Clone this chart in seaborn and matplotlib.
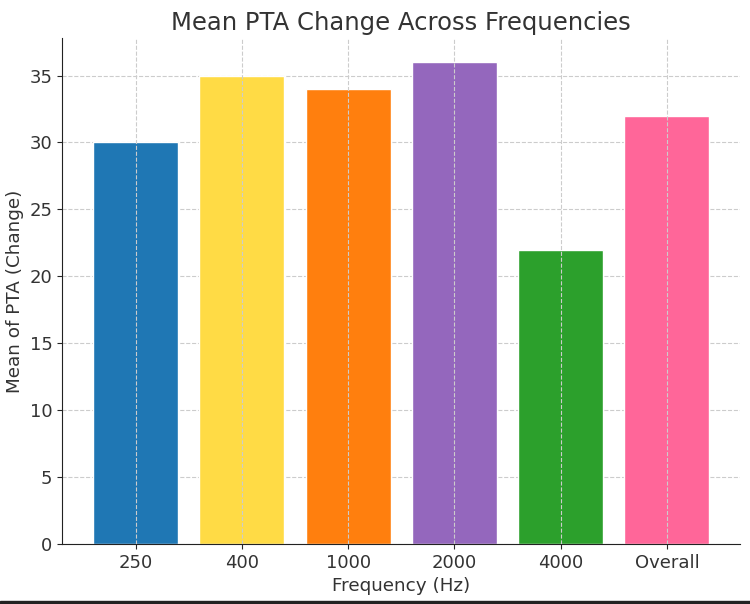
import matplotlib
matplotlib.use("Agg")
import matplotlib.pyplot as plt
import seaborn as sns
import pandas as pd
from matplotlib.patches import Rectangle

# chart data
frequencies = ["250", "400", "1000", "2000", "4000", "Overall"]
mean_change = [30, 35, 34, 36, 22, 32]
bar_colors = ["#1f77b4", "#FFDB45", "#ff7f0e", "#9467bd", "#2ca02c", "#FF6699"]

df = pd.DataFrame({"Frequency": frequencies, "Mean": mean_change})

sns.set_style("ticks")
plt.rcParams["font.family"] = ["DejaVu Sans"]
text_color = "#333333"

fig, ax = plt.subplots(figsize=(7.5, 6.04), dpi=100)
sns.barplot(data=df, x="Frequency", y="Mean", hue="Frequency",
            palette=bar_colors, saturation=1, legend=False, width=0.8, ax=ax)

ax.set_xlim(-0.69, 5.69)
ax.set_ylim(0, 37.8)
ax.set_yticks(range(0, 36, 5))

ax.set_title("Mean PTA Change Across Frequencies", fontsize=17.5, color=text_color)
ax.set_xlabel("Frequency (Hz)", fontsize=13.2, color=text_color)
ax.set_ylabel("Mean of PTA (Change)", fontsize=13.2, color=text_color)
ax.tick_params(labelsize=13, labelcolor=text_color)

ax.grid(True, linestyle="--", color="#cccccc", linewidth=0.8)
ax.set_axisbelow(True)
# vertical grid lines sit on top of the bars in the reference
ax.xaxis.set_zorder(2.5)

sns.despine(ax=ax)
for s in ["left", "bottom"]:
    ax.spines[s].set_color("#222222")

fig.subplots_adjust(left=0.083, right=0.987, top=0.937, bottom=0.099)

# dark strip along the bottom edge of the picture
fig.add_artist(Rectangle((0, 0), 1, 0.005, transform=fig.transFigure,
                         color="#222222", zorder=10))

fig.savefig("out.png", dpi=100)
